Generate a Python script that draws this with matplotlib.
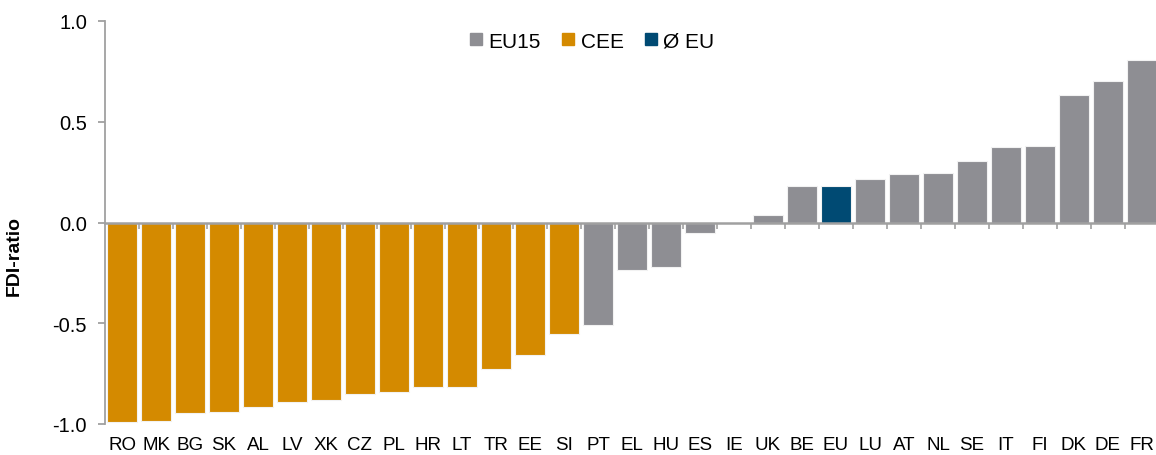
import numpy as np
import matplotlib.pyplot as plt
from matplotlib.lines import Line2D

plt.rcParams['font.family'] = ['Liberation Sans', 'DejaVu Sans']

# data
countries = ['RO', 'MK', 'BG', 'SK', 'AL', 'LV', 'XK', 'CZ', 'PL', 'HR', 'LT', 'TR', 'EE', 'SI',
             'PT', 'EL', 'HU', 'ES', 'IE', 'UK', 'BE', 'EU', 'LU', 'AT', 'NL', 'SE', 'IT', 'FI',
             'DK', 'DE', 'FR']
fdi_ratio = [-0.99, -0.983, -0.945, -0.94, -0.915, -0.89, -0.88, -0.85, -0.84, -0.815, -0.815,
             -0.725, -0.66, -0.555, -0.51, -0.235, -0.22, -0.05, 0.0, 0.035, 0.18, 0.18, 0.215,
             0.243, 0.248, 0.307, 0.373, 0.378, 0.632, 0.703, 0.808]
groups = ['CEE'] * 14 + ['EU15'] * 7 + ['EU'] + ['EU15'] * 9

colors = {'EU15': '#8E8E93', 'CEE': '#D48A00', 'EU': '#004A73'}
legend_names = {'EU15': 'EU15', 'CEE': 'CEE', 'EU': 'Ø EU'}

fig = plt.figure(figsize=(11.56, 4.56), dpi=100)
ax = fig.add_axes([105/1156, 31/456, (1159-105)/1156, (425-22)/456])

x = np.arange(len(countries))
ax.bar(x, fdi_ratio, width=0.86, color=[colors[g] for g in groups],
       edgecolor='#F2F2F2', linewidth=0.8, zorder=2)

ax.set_xlim(-0.5, len(countries) - 0.5)
ax.set_ylim(-1.0, 1.0)
ax.set_yticks([-1.0, -0.5, 0.0, 0.5, 1.0])
ax.set_yticklabels(['-1.0', '-0.5', '0.0', '0.5', '1.0'])

axis_grey = '#A0A0A0'
for s in ['top', 'right']:
    ax.spines[s].set_visible(False)
ax.spines['left'].set_color(axis_grey)
ax.spines['left'].set_linewidth(1.3)
ax.spines['bottom'].set_position(('data', 0))
ax.spines['bottom'].set_color(axis_grey)
ax.spines['bottom'].set_linewidth(1.8)
ax.spines['bottom'].set_zorder(3)

ax.tick_params(axis='y', direction='out', length=5, width=1.3, color=axis_grey,
               labelsize=14.5, pad=8)
ax.set_xticks(x)
ax.set_xticklabels([])
ax.tick_params(axis='x', which='major', length=0)
ax.set_xticks(x[:-1] + 0.5, minor=True)
ax.tick_params(axis='x', which='minor', direction='out', length=4, width=1.2, color=axis_grey)

# country labels at the bottom
sec = ax.secondary_xaxis('bottom')
sec.set_xticks(x)
sec.set_xticklabels(countries)
sec.tick_params(length=0, labelsize=13.5, pad=9)
sec.spines['bottom'].set_visible(False)

ax.set_ylabel('FDI-ratio', fontsize=14, fontweight='bold')
ax.yaxis.set_label_coords(-0.078, 0.42)

handles = [Line2D([], [], marker='s', linestyle='none', markersize=8,
                  color=colors[k], label=legend_names[k]) for k in ['EU15', 'CEE', 'EU']]
fig.legend(handles=handles, loc='center', bbox_to_anchor=(592/1156, 1 - 42/456), ncol=3,
           frameon=False, fontsize=15, handlelength=0.6, handletextpad=0.3,
           columnspacing=1.0, borderpad=0)

fig.savefig('out.png', dpi=100)
